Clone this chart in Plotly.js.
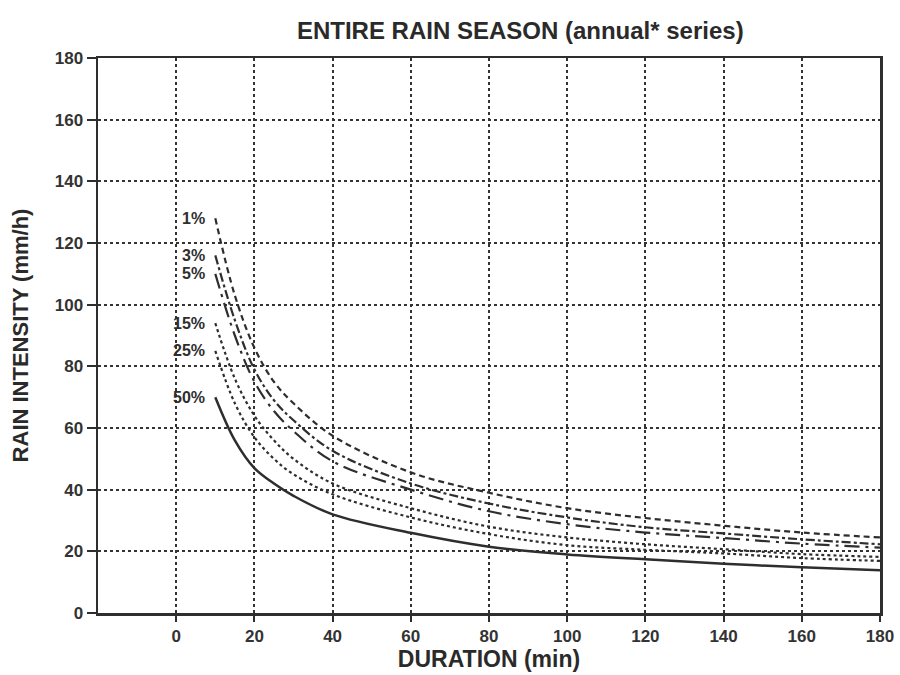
<!DOCTYPE html>
<html>
<head>
<meta charset="utf-8">
<script src="https://cdn.plot.ly/plotly-3.0.1.min.js"></script>
<style>html,body{margin:0;padding:0;background:#fff;}#chart{width:900px;height:675px;}</style>
</head>
<body>
<div id="chart"></div>
<script>
// Durations (min)
const durations = [10, 15, 20, 25, 30, 40, 60, 80, 100, 120, 140, 160, 180];
// Rain intensity (mm/h) per exceedance probability
const p1  = [128, 103, 86, 75, 68, 57.5, 45.6, 39.0, 34.0, 30.8, 28.3, 26.1, 24.5];
const p3  = [116, 95, 79, 69, 62.5, 52.6, 42.0, 35.5, 31.0, 27.8, 25.8, 23.9, 22.3];
const p5  = [110, 90, 75, 65.5, 59, 49.2, 40.0, 33.0, 28.8, 26.1, 24.3, 22.5, 21.2];
const p15 = [94, 76, 64, 56, 50, 42, 34, 28.0, 24.5, 22.3, 20.7, 19.1, 18.2];
const p25 = [85, 68, 57, 50, 45, 38.5, 31, 25.6, 22.0, 20.5, 19.3, 17.8, 16.9];
const p50 = [70, 56, 47, 42, 38, 32, 26, 21.5, 19.0, 17.4, 16.0, 14.8, 13.9];
const seriesNames = ["1%", "3%", "5%", "15%", "25%", "50%"];
const seriesData = [p1, p3, p5, p15, p25, p50];
const dashes = ["6px,4px", "dashdot", "longdashdot", "dot", "dot", "solid"];
const xTicks = [0, 20, 40, 60, 80, 100, 120, 140, 160, 180];
const yTicks = [0, 20, 40, 60, 80, 100, 120, 140, 160, 180];

const FONT = "Liberation Sans, Arial, sans-serif";

const traces = seriesData.map((ys, i) => ({
  x: durations, y: ys, type: "scatter", mode: "lines", name: seriesNames[i],
  line: {color: "#2e2e2e", width: i === 5 ? 2.5 : 2.2, dash: dashes[i], shape: "spline", smoothing: 1},
  hoverinfo: "x+y+name"
}));

const annotations = seriesData.map((ys, i) => ({
  x: 8, y: ys[0], xref: "x", yref: "y", text: seriesNames[i], showarrow: false,
  xanchor: "right", yanchor: "middle",
  font: {family: FONT, size: 16, color: "#2e2e2e", weight: "bold"}
}));

const tickFont = {family: FONT, size: 17, color: "#333", weight: "bold"};

const layout = {
  width: 900, height: 675,
  margin: {l: 98, r: 20, t: 58, b: 62},
  paper_bgcolor: "#fff", plot_bgcolor: "#fff",
  showlegend: false,
  title: {text: "ENTIRE RAIN SEASON (annual* series)", x: 0.54, xref: "paper", xanchor: "center", y: 0.955, yanchor: "middle",
          font: {family: FONT, size: 24, color: "#2a2a2a", weight: "bold"}},
  xaxis: {
    range: [-20, 180], tickvals: xTicks, ticktext: xTicks.map(String),
    showgrid: true, gridcolor: "#333", gridwidth: 2, griddash: "dot",
    showline: true, linecolor: "#2e2e2e", linewidth: 2.5, mirror: true,
    ticks: "outside", ticklen: 6, tickwidth: 2, tickcolor: "#2e2e2e",
    tickfont: tickFont, zeroline: false,
    title: {text: "DURATION (min)", standoff: 6,
            font: {family: FONT, size: 23, color: "#2a2a2a", weight: "bold"}}
  },
  yaxis: {
    range: [0, 180], tickvals: yTicks, ticktext: yTicks.map(String),
    showgrid: true, gridcolor: "#333", gridwidth: 2, griddash: "dot",
    showline: true, linecolor: "#2e2e2e", linewidth: 2.5, mirror: true,
    ticks: "outside", ticklen: 9, tickwidth: 2, tickcolor: "#2e2e2e",
    tickfont: tickFont, zeroline: false,
    title: {text: "RAIN INTENSITY (mm/h)", standoff: 20,
            font: {family: FONT, size: 22, color: "#2a2a2a", weight: "bold"}}
  },
  annotations: annotations
};

Plotly.newPlot("chart", traces, layout, {displayModeBar: false, staticPlot: true});
</script>
</body>
</html>
